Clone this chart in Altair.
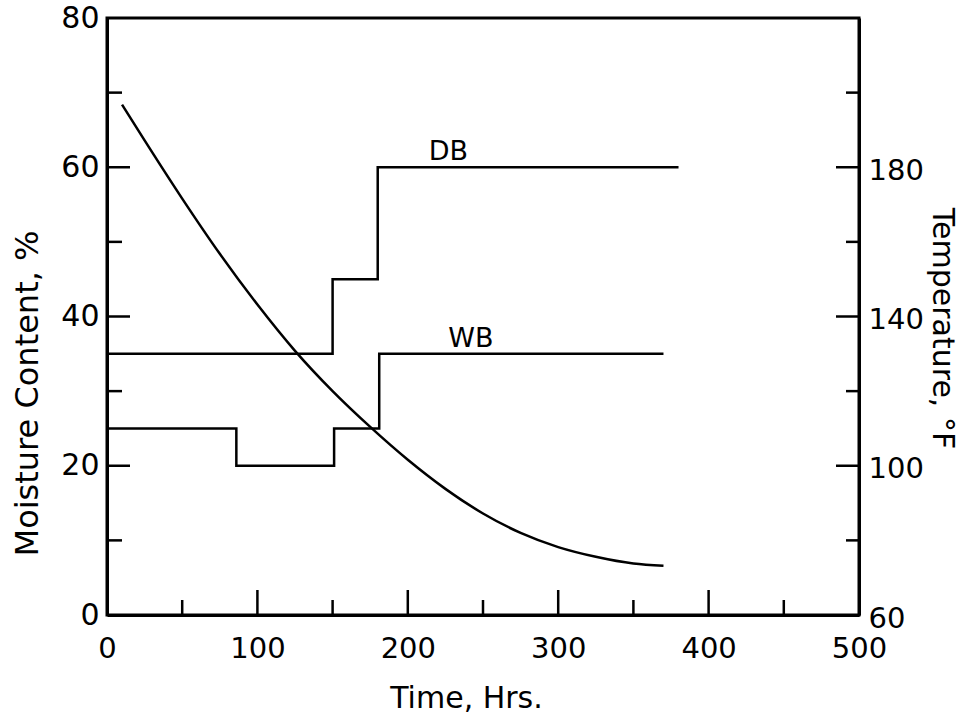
import altair as alt
import pandas as pd

# ---- data ----
curve_t = [10, 25, 50, 75, 100, 125, 150, 175, 200, 225, 250, 275, 300, 325, 350, 370]
curve_m = [68.4, 63.6, 55.8, 48.4, 41.6, 35.4, 30.0, 25.2, 20.8, 16.9, 13.6, 11.0, 9.1, 7.8, 6.9, 6.6]

db_t = [0, 150, 180, 380]
db_temp = [130, 150, 180, 180]
wb_t = [0, 86, 151, 181, 370]
wb_temp = [110, 100, 110, 130, 130]

label_text = ["DB", "WB"]
label_t = [227, 242]
label_temp = [180, 130]

x_labels = [0, 100, 200, 300, 400, 500]
y_labels = [0, 20, 40, 60, 80]
temp_labels = [60, 100, 140, 180]
x_major_ticks = [100, 200, 300, 400]
x_minor_ticks = [50, 150, 250, 350, 450]
y_major_ticks = [20, 40, 60]
y_minor_ticks = [10, 30, 50, 70]

W, H = 752, 597
FONT = "DejaVu Sans"

XS = alt.Scale(domain=[0, 500], nice=False, zero=False)
YS = alt.Scale(domain=[0, 80], nice=False, zero=False)
TS = alt.Scale(domain=[60, 220], nice=False, zero=False)

X_AXIS = alt.Axis(values=x_labels, ticks=False, grid=False, domainColor="black", domainWidth=3,
                  labelFontSize=29, labelColor="black", labelPadding=19, labelFlush=False,
                  labelOverlap=False, titleFontSize=30, titleFontWeight="normal", titleColor="black",
                  titleX=359, titleY=83, titleAlign="center", titleBaseline="middle", titleAnchor="start")
Y_AXIS = alt.Axis(values=y_labels, ticks=False, grid=False, domainColor="black", domainWidth=3,
                  labelFontSize=30, labelColor="black", labelPadding=8, labelOverlap=False,
                  titleFontSize=32, titleFontWeight="normal", titleColor="black",
                  titleAngle=270, titleX=-80, titleY=375, titleAlign="center", titleBaseline="middle")
T_AXIS = alt.Axis(orient="right", values=temp_labels, ticks=False, grid=False, domainColor="black",
                  domainWidth=3, labelFontSize=29, labelColor="black", labelPadding=9, labelOffset=3,
                  labelOverlap=False, titleFontSize=30, titleFontWeight="normal", titleColor="black",
                  titleAngle=90, titleX=82, titleY=310, titleAlign="center", titleBaseline="middle")

XT = "Time, Hrs."
YT = "Moisture Content, %"
TT = "Temperature, °F"

curve_df = pd.DataFrame({"t": curve_t, "m": curve_m})
curve = alt.Chart(curve_df).mark_line(color="black", strokeWidth=2.5, interpolate="monotone").encode(
    x=alt.X("t:Q", scale=XS, axis=X_AXIS, title=XT),
    y=alt.Y("m:Q", scale=YS, axis=Y_AXIS, title=YT),
)

def yticks(vals, x0, x1):
    return alt.Chart(pd.DataFrame({"m": vals})).mark_rule(color="black", strokeWidth=2.5).encode(
        y=alt.Y("m:Q", scale=YS, axis=Y_AXIS, title=YT),
        x=alt.value(x0), x2=alt.value(x1),
    )

def xticks(vals, length):
    return alt.Chart(pd.DataFrame({"t": vals})).mark_rule(color="black", strokeWidth=2.5).encode(
        x=alt.X("t:Q", scale=XS, axis=X_AXIS, title=XT),
        y=alt.value(H), y2=alt.value(H - length),
    )

moist = alt.layer(
    curve,
    yticks(y_major_ticks, 0, 23), yticks(y_minor_ticks, 0, 15),
    yticks(y_major_ticks, W, W - 23), yticks(y_minor_ticks, W, W - 13),
    xticks(x_major_ticks, 25), xticks(x_minor_ticks, 15),
)

steps_df = pd.DataFrame({
    "series": ["DB"] * len(db_t) + ["WB"] * len(wb_t),
    "t": db_t + wb_t,
    "temp": db_temp + wb_temp,
})
steps = alt.Chart(steps_df).mark_line(color="black", strokeWidth=2.5, interpolate="step-after").encode(
    x=alt.X("t:Q", scale=XS, axis=X_AXIS, title=XT),
    y=alt.Y("temp:Q", scale=TS, axis=T_AXIS, title=TT),
    detail="series:N",
)
labels_df = pd.DataFrame({"label": label_text, "t": label_t, "temp": label_temp})
labels = alt.Chart(labels_df).mark_text(baseline="bottom", dy=-1, fontSize=27, color="black", font=FONT).encode(
    x=alt.X("t:Q", scale=XS, axis=X_AXIS, title=XT),
    y=alt.Y("temp:Q", scale=TS, axis=T_AXIS, title=TT),
    text="label:N",
)
temp = alt.layer(steps, labels)

chart = alt.layer(moist, temp).resolve_scale(y="independent").properties(
    width=W, height=H,
    autosize=alt.AutoSizeParams(type="none"),
    padding={"left": 107, "top": 18, "right": 102, "bottom": 98},
).configure(font=FONT, background="white").configure_view(stroke="black", strokeWidth=3)

chart.save("out.html", embed_options={"renderer": "svg", "actions": False})
